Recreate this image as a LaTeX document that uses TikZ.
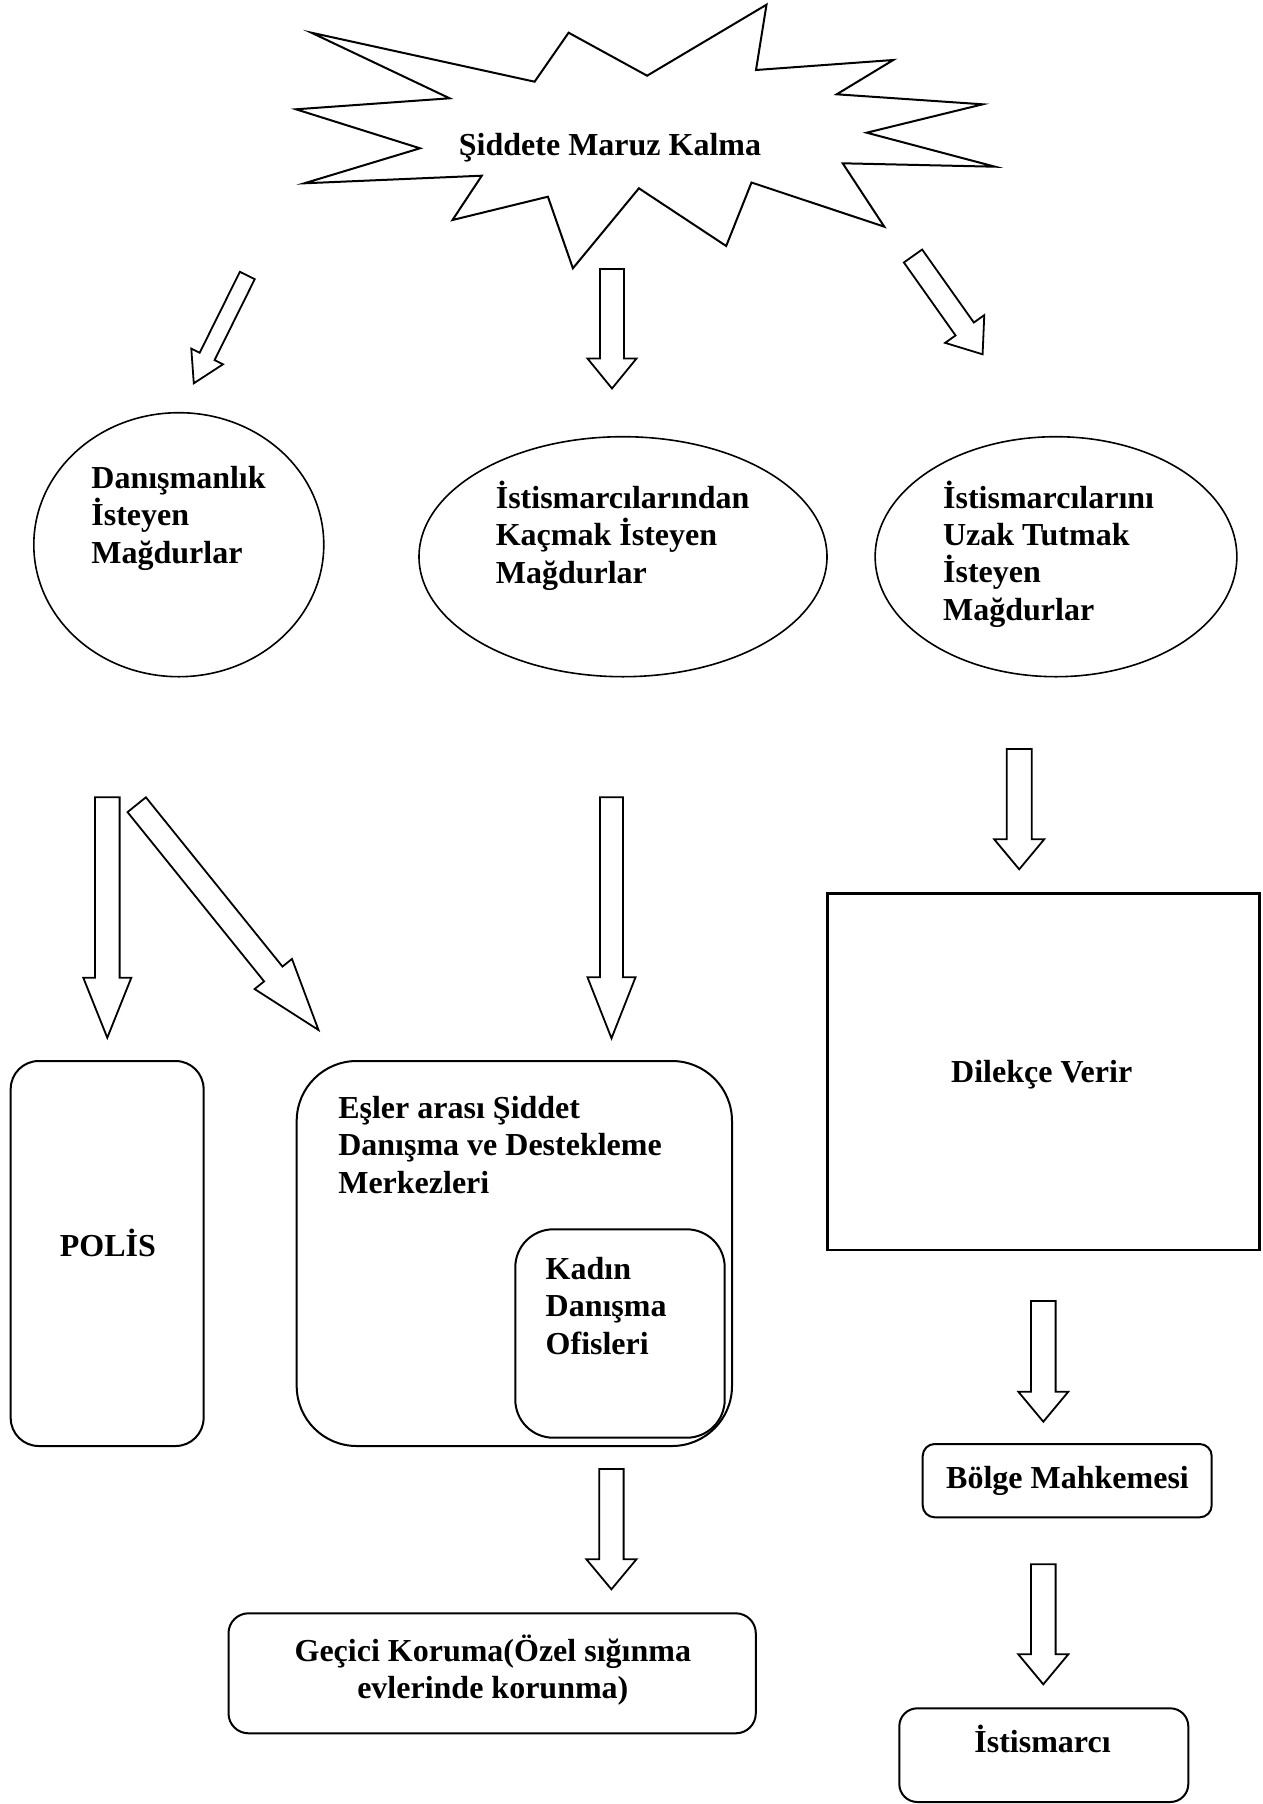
\documentclass[tikz,border=0pt]{standalone}
\usepackage{fontspec}
\setmainfont{Liberation Serif}
\usetikzlibrary{calc,shapes.geometric}
\newcommand\txtl[1]{\vtop{\baselineskip=18.7pt\halign{##\hfil\cr#1\crcr}}}
\newcommand\txtc[1]{\vtop{\baselineskip=18.5pt\halign{\hfil##\hfil\cr#1\crcr}}}
% #1 start, #2 tip, #3 shaft half width, #4 head half width, #5 head length
\newcommand\blkarrow[5]{%
  \coordinate (bah) at ($(#2)!#5!(#1)$);
  \draw[blk] ($(#1)!#3!90:(#2)$) -- ($(bah)!#3!90:(#2)$) -- ($(bah)!#4!90:(#2)$) -- (#2)
    -- ($(bah)!#4!-90:(#2)$) -- ($(bah)!#3!-90:(#2)$) -- ($(#1)!#3!-90:(#2)$) -- cycle;}
\begin{document}
\begin{tikzpicture}[x=0.5pt,y=-0.5pt,
  lbl/.style={inner sep=0pt, font=\fontsize{16pt}{18.7pt}\selectfont\bfseries},
  shp/.style={draw, line width=1pt, inner sep=0pt},
  oval/.style={shp, ellipse, line width=0.8pt},
  rbox/.style={shp, rectangle},
  blk/.style={draw, line width=0.9pt, fill=white, line join=miter}]
\useasboundingbox (0,0) rectangle (1263,1804);

% starburst
\draw[line width=1pt, line join=miter] (311.4,32.7) -- (534.6,81.7) -- (568.6,32.7) -- (647.1,75.7) -- (766.5,4.7) -- (756,70) -- (893.3,60) -- (836.7,94.3) -- (982.7,104.3) -- (866.7,132.7) -- (995,166.7) -- (842.7,163.3) -- (884.3,226.7) -- (751.5,182.5) -- (726.2,246) -- (638.9,188.3) -- (572.9,268.3) -- (547.9,196.7) -- (452.5,220) -- (481.8,175.7) -- (304.3,183.3) -- (420,148.3) -- (296,109.3) -- (449.6,98.3) -- cycle;
\node[lbl, anchor=base] (burst) at (610,155) {Şiddete Maruz Kalma};

% ellipses
\node[oval, minimum width=145pt, minimum height=132pt] (e1) at (178.8,544.7) {};
\node[lbl, anchor=base west] (t1) at (91,488.3) {\txtl{Danışmanlık\cr İsteyen\cr Mağdurlar}};
\node[oval, minimum width=204pt, minimum height=120pt] (e2) at (623,556.7) {};
\node[lbl, anchor=base west] (t2) at (495.4,508.3) {\txtl{İstismarcılarından\cr Kaçmak İsteyen\cr Mağdurlar}};
\node[oval, minimum width=180.85pt, minimum height=120pt] (e3) at (1056,556.7) {};
\node[lbl, anchor=base west] (t3) at (942.7,508) {\txtl{İstismarcılarını\cr Uzak Tutmak\cr İsteyen\cr Mağdurlar}};

% boxes
\node[rbox, rounded corners=14pt, minimum width=96.45pt, minimum height=192.5pt] (polis) at (107.15,1253.5) {};
\node[lbl, anchor=base] (tpolis) at (107.9,1256.7) {POLİS};
\node[rbox, rounded corners=30pt, minimum width=217.65pt, minimum height=192.5pt] (esler) at (514.35,1253.5) {};
\node[lbl, anchor=base west] (tesler) at (337.9,1118.3) {\txtl{Eşler arası Şiddet\cr Danışma ve Destekleme\cr Merkezleri}};
\node[rbox, rounded corners=19pt, minimum width=104.7pt, minimum height=104.2pt] (kadin) at (620,1333.5) {};
\node[lbl, anchor=base west] (tkadin) at (545.3,1279.5) {\txtl{Kadın\cr Danışma\cr Ofisleri}};
\node[rbox, rounded corners=10pt, minimum width=263.65pt, minimum height=60pt] (gecici) at (492.15,1673.3) {};
\node[lbl, anchor=base] (tgecici) at (492.8,1661.5) {\txtc{Geçici Koruma(Özel sığınma\cr evlerinde korunma)}};
\node[rbox, line width=1.2pt, minimum width=216pt, minimum height=178.35pt] (dilekce) at (1043.3,1071.65) {};
\node[lbl, anchor=base] (tdilekce) at (1041.7,1082.3) {Dilekçe Verir};
\node[rbox, rounded corners=6pt, minimum width=144.5pt, minimum height=36.65pt] (bolge) at (1067.2,1480.65) {};
\node[lbl, anchor=base] (tbolge) at (1067.5,1488.3) {Bölge Mahkemesi};
\node[rbox, rounded corners=9pt, minimum width=144.5pt, minimum height=46.85pt] (istis) at (1043.8,1755.15) {};
\node[lbl, anchor=base] (tistis) at (1042.5,1752.7) {İstismarcı};

% arrow end points
\coordinate (a1s) at (247.3,275.5);  \coordinate (a1e) at (193.8,383.3);
\coordinate (a2s) at (612,269);      \coordinate (a2e) at (612,388.5);
\coordinate (a3s) at (913,256);      \coordinate (a3e) at (982.6,354.3);
\coordinate (a4s) at (107.3,797.3);  \coordinate (a4e) at (107.3,1037.7);
\coordinate (a5s) at (136.7,804.7);  \coordinate (a5e) at (318.5,1030);
\coordinate (a6s) at (611.5,797.3);  \coordinate (a6e) at (611.5,1038.3);
\coordinate (a7s) at (1019.2,749);   \coordinate (a7e) at (1019.2,869.3);
\coordinate (a8s) at (1043.3,1301);  \coordinate (a8e) at (1043.3,1421.7);
\coordinate (a9s) at (1043.3,1564.3);\coordinate (a9e) at (1043.3,1684.3);
\coordinate (a10s) at (611.4,1469);  \coordinate (a10e) at (611.4,1589.3);

\blkarrow{a1s}{a1e}{4.15pt}{8.85pt}{15pt}
\blkarrow{a2s}{a2e}{6pt}{12.25pt}{15pt}
\blkarrow{a3s}{a3e}{5.6pt}{12pt}{15.5pt}
\blkarrow{a4s}{a4e}{6.15pt}{12pt}{30pt}
\blkarrow{a5s}{a5e}{5.9pt}{12pt}{36pt}
\blkarrow{a6s}{a6e}{5.75pt}{12pt}{30.5pt}
\blkarrow{a7s}{a7e}{6.25pt}{12.5pt}{15pt}
\blkarrow{a8s}{a8e}{6.15pt}{12.5pt}{15pt}
\blkarrow{a9s}{a9e}{6.15pt}{12.5pt}{15pt}
\blkarrow{a10s}{a10e}{6.1pt}{12.5pt}{15pt}
\end{tikzpicture}
\end{document}
